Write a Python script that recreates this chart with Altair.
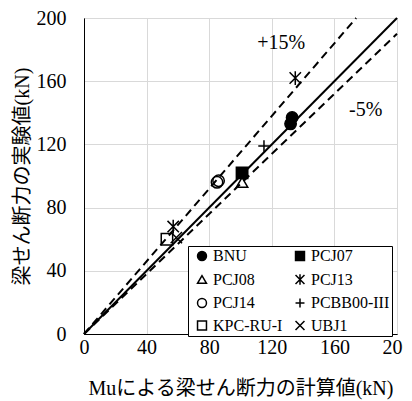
import altair as alt
import pandas as pd

# ---- data ----
series_order = ["BNU", "PCJ07", "PCJ08", "PCJ13", "PCJ14", "PCBB00-III", "KPC-RU-I", "UBJ1"]
pt_series = ["BNU", "BNU", "PCJ07", "PCJ08", "PCJ13", "PCJ13", "PCJ14", "PCJ14", "PCBB00-III", "KPC-RU-I", "UBJ1"]
pt_calc = [132, 133, 101, 101, 135, 57, 85, 86, 115, 53, 59]
pt_exp = [133, 137, 102, 96, 162, 68, 96, 97, 119, 60, 61]

ticks = [0, 40, 80, 120, 160, 200]
line_names = ["1:1", "1:1", "+15%", "+15%", "-5%", "-5%"]
line_x = [0, 200, 0, 173.9, 0, 200]
line_y = [0, 200, 0, 200, 0, 190]

ann_text = ["+15%", "-5%"]
ann_x = [126, 180]
ann_y = [184, 142]

SERIF = "'Times New Roman', 'Liberation Serif', 'Noto Sans CJK JP'"

shapes = [
    "circle",
    "square",
    "triangle-up",
    "M-1,-1L1,1M1,-1L-1,1M0,-1.2L0,1.2",
    "circle",
    "M-1,0L1,0M0,-1L0,1",
    "square",
    "M-1,-1L1,1M1,-1L-1,1",
]
fills = ["black", "black", "transparent", "transparent", "transparent", "transparent", "transparent", "transparent"]
strokes = ["black"] * 8

pts = pd.DataFrame({"series": pt_series, "calc": pt_calc, "exp": pt_exp})
lines = pd.DataFrame({"name": line_names, "x": line_x, "y": line_y})
ann = pd.DataFrame({"t": ann_text, "x": ann_x, "y": ann_y})

xs = alt.Scale(domain=[0, 200], nice=False, zero=True)
ys = alt.Scale(domain=[0, 200], nice=False, zero=True)

x_axis = alt.Axis(values=ticks, title="Muによる梁せん断力の計算値(kN)", grid=True, ticks=False,
                  labelPadding=3, titlePadding=21, labelFlush=False)
y_axis = alt.Axis(values=ticks, title="梁せん断力の実験値(kN)", grid=True, ticks=False,
                  labelPadding=18, titlePadding=4, labelFlush=False)

solid = alt.Chart(lines[lines["name"] == "1:1"]).mark_line(color="black", strokeWidth=2).encode(
    x=alt.X("x:Q", scale=xs, axis=x_axis),
    y=alt.Y("y:Q", scale=ys, axis=y_axis),
    detail="name:N",
)
dashed = alt.Chart(lines[lines["name"] != "1:1"]).mark_line(color="black", strokeWidth=2, strokeDash=[8, 5]).encode(
    x=alt.X("x:Q", scale=xs),
    y=alt.Y("y:Q", scale=ys),
    detail="name:N",
)

legend = alt.Legend(title=None, direction="horizontal", columns=2)
points = alt.Chart(pts).mark_point(size=130, strokeWidth=1.5, opacity=1).encode(
    x=alt.X("calc:Q", scale=xs),
    y=alt.Y("exp:Q", scale=ys),
    shape=alt.Shape("series:N", scale=alt.Scale(domain=series_order, range=shapes),
                    sort=series_order, legend=legend),
    fill=alt.Fill("series:N", scale=alt.Scale(domain=series_order, range=fills),
                  sort=series_order, legend=legend),
    stroke=alt.Stroke("series:N", scale=alt.Scale(domain=series_order, range=strokes),
                      sort=series_order, legend=legend),
)

texts = alt.Chart(ann).mark_text(font=SERIF, fontSize=20, color="black").encode(
    x=alt.X("x:Q", scale=xs),
    y=alt.Y("y:Q", scale=ys),
    text="t:N",
)

chart = alt.layer(solid, dashed, points, texts).properties(
    width=313, height=316,
    autosize=alt.AutoSizeParams(type="none"),
    padding={"left": 76, "top": 10, "right": 6, "bottom": 66},
).configure_view(
    stroke="black", strokeWidth=1
).configure_axis(
    labelFont=SERIF, labelFontSize=20, labelColor="black",
    titleFont=SERIF, titleFontSize=20, titleColor="black", titleFontWeight="normal",
    domainColor="black", domainWidth=1,
    gridColor="#d9d9d9", gridWidth=1,
).configure_legend(
    orient="none", legendX=104, legendY=228,
    labelFont=SERIF, labelFontSize=16, labelColor="black",
    symbolSize=80, symbolStrokeWidth=1.5, symbolOffset=4,
    strokeColor="black", fillColor="white", padding=2,
    rowPadding=6.5, columnPadding=5, labelOffset=3, labelLimit=200,
)

chart.save("out.html", embed_options={"renderer": "svg", "actions": False})
